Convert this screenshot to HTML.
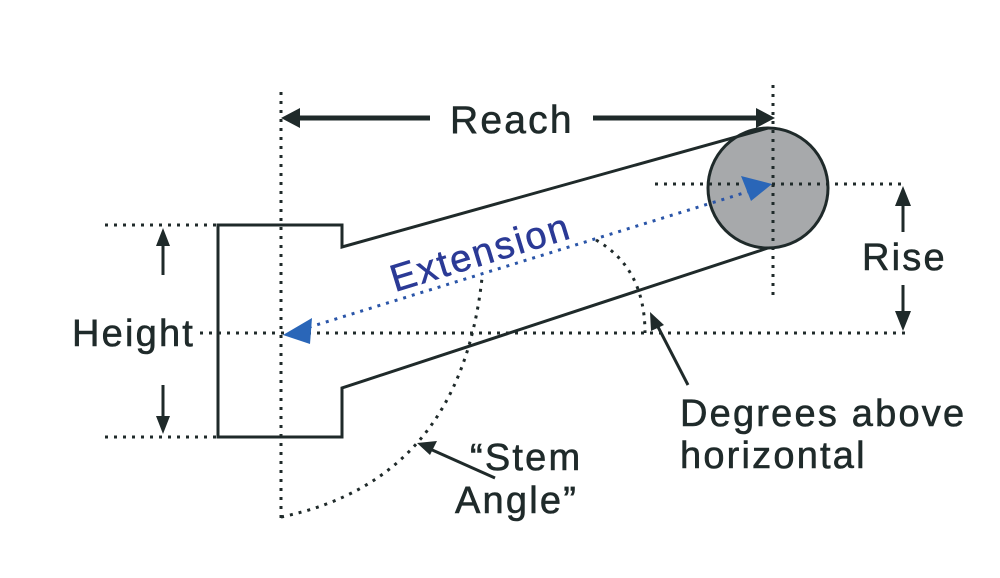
<!DOCTYPE html>
<html><head><style>body{margin:0;background:#fff}svg{display:block}text{font-family:"Liberation Sans",Arial,sans-serif;fill:#1f2a2a;letter-spacing:2.2px;stroke:#1f2a2a;stroke-width:0.6}</style></head>
<body>
<svg width="1000" height="578" viewBox="0 0 1000 578">
<g stroke="#1f2a2a" stroke-width="3" fill="none" stroke-dasharray="3 6">
<line x1="281" y1="92" x2="281" y2="518"/>
<line x1="200" y1="333" x2="905" y2="333"/>
<line x1="105" y1="225" x2="218" y2="225"/>
<line x1="105" y1="437" x2="218" y2="437"/>
<line x1="655" y1="184" x2="905" y2="184"/>
<path d="M281,517 Q460,480 482,278"/>
<path d="M596,240 Q645,268 645,333"/>
</g>
<circle cx="768" cy="188" r="60" fill="#a7a9ab" stroke="#1f2a2a" stroke-width="3"/>
<g stroke="#1f2a2a" stroke-width="3" fill="none" stroke-dasharray="3 6">
<line x1="773" y1="85" x2="773" y2="298"/>
<line x1="700" y1="184" x2="830" y2="184"/>
</g>
<path d="M768,128 L342,247 L342,225 L218,225 L218,437 L342,437 L342,388 L768,248" fill="none" stroke="#1f2a2a" stroke-width="3"/>
<line x1="300" y1="330" x2="760" y2="188" stroke="#2a55a8" stroke-width="3" stroke-dasharray="3 6"/>
<path d="M283,335 L312,318 L310,344z" fill="#2a66b8"/>
<path d="M772,184 L741,176 L751,201z" fill="#2a66b8"/>
<g stroke="#1f2a2a" stroke-width="5" fill="none">
<line x1="430" y1="118" x2="295" y2="118"/>
<line x1="593" y1="118" x2="760" y2="118"/>
</g>
<path d="M281,118 L300,108 L300,128z M775,118 L756,108 L756,128z" fill="#1f2a2a"/>
<g stroke="#1f2a2a" stroke-width="3">
<line x1="163" y1="275" x2="163" y2="240"/>
<line x1="163" y1="385" x2="163" y2="420"/>
<line x1="903" y1="232" x2="903" y2="200"/>
<line x1="903" y1="285" x2="903" y2="315"/>
<line x1="495" y1="478" x2="430" y2="449"/>
<line x1="688" y1="385" x2="656" y2="323"/>
</g>
<path d="M163,228 L156,246 L170,246z M163,434 L156,416 L170,416z M903,186 L895,206 L911,206z M903,331 L895,311 L911,311z M417,443 L437,441 L430,455z M650,312 L664,325 L651,331z" fill="#1f2a2a"/>
<text x="450" y="133" font-size="39">Reach</text>
<text x="72" y="346" font-size="38">Height</text>
<text x="862" y="270" font-size="38">Rise</text>
<text x="470" y="470" font-size="38">“Stem</text>
<text x="455" y="513" font-size="38">Angle”</text>
<text x="680" y="426" font-size="38">Degrees above</text>
<text x="680" y="468" font-size="38">horizontal</text>
<text x="395" y="292" font-size="38" style="fill:#2b3a96;stroke:#2b3a96" transform="rotate(-17 395 292)">Extension</text>
</svg>
</body></html>
